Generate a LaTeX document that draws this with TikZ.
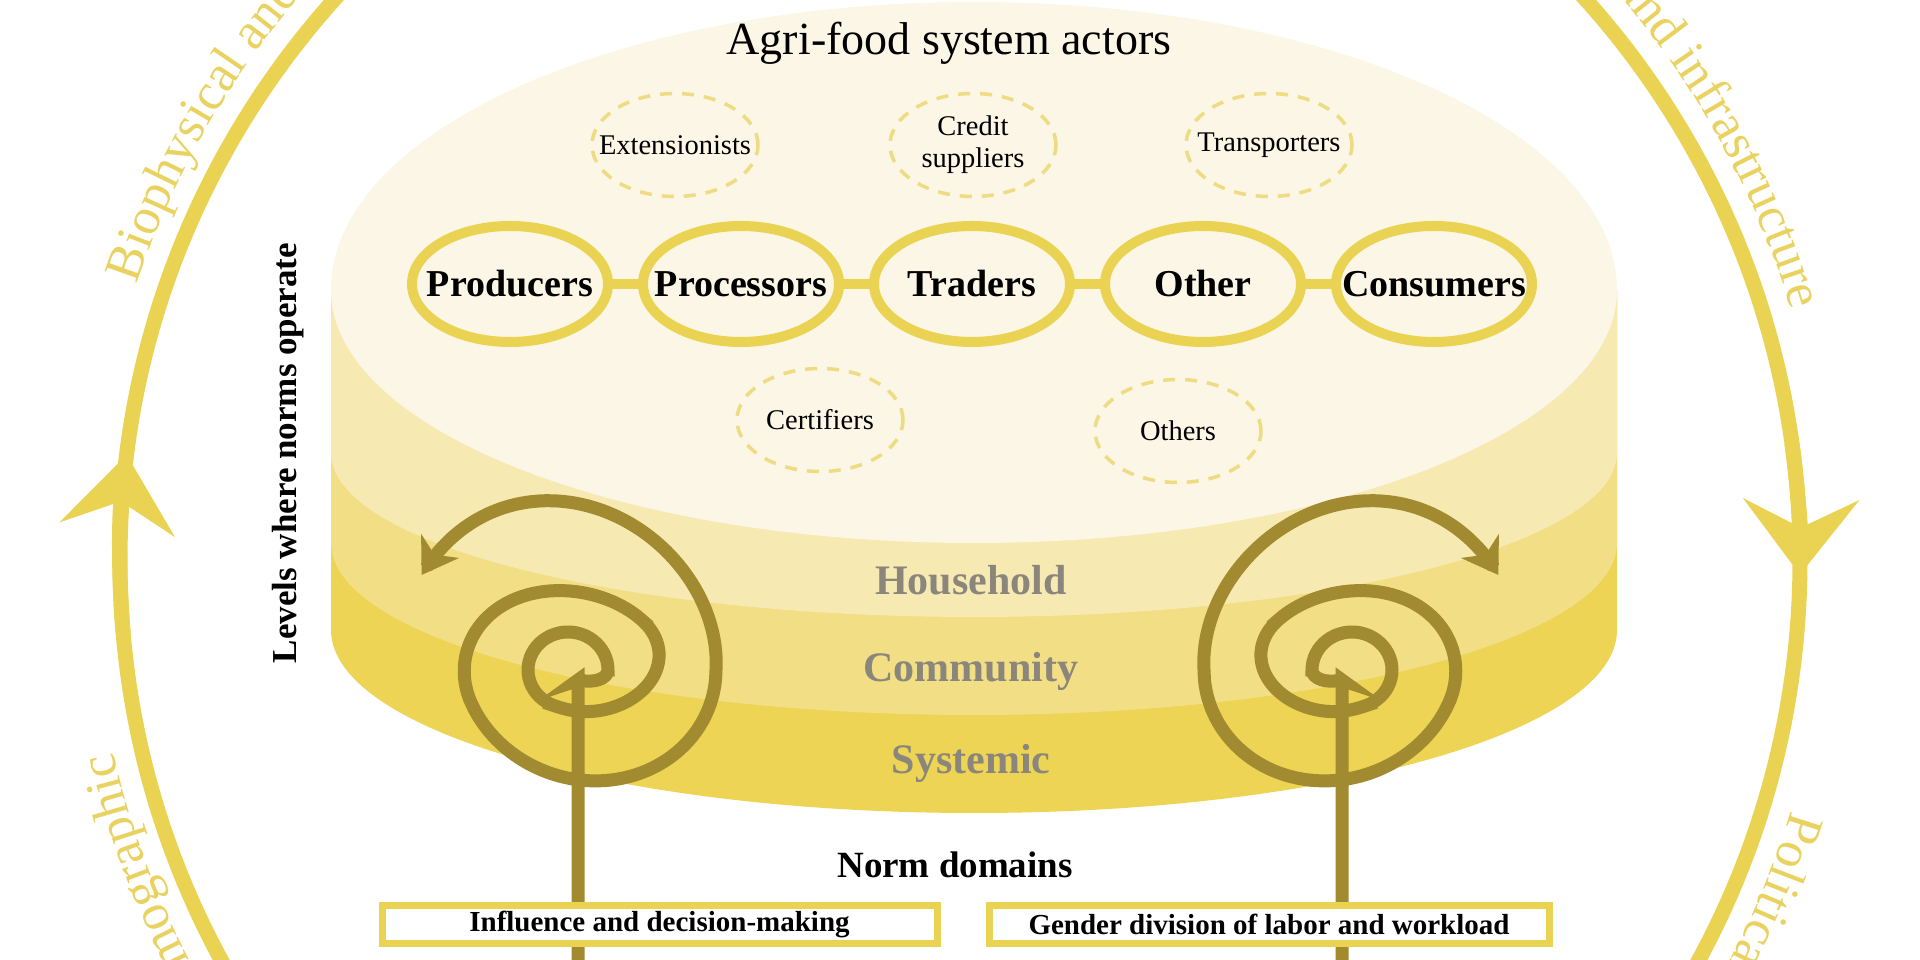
\documentclass[tikz,border=0pt]{standalone}
\usepackage{fontspec}
\setmainfont{Liberation Serif}
\usepackage{tikz}
\usetikzlibrary{arrows.meta,positioning,shapes.geometric,decorations.text}
\definecolor{ringgold}{RGB}{234,210,82}
\definecolor{ringtext}{RGB}{233,210,96}
\definecolor{olive}{RGB}{161,138,48}
\definecolor{cream}{RGB}{251,246,229}
\definecolor{hhband}{RGB}{246,233,177}
\definecolor{comband}{RGB}{242,222,132}
\definecolor{sysband}{RGB}{237,212,84}
\definecolor{bandgray}{RGB}{138,134,124}
\definecolor{dashgold}{RGB}{238,219,130}
\tikzset{
  actor/.style={ellipse,draw=ringgold,line width=10pt,fill=cream,minimum width=196pt,minimum height=116pt,inner xsep=-40pt,inner ysep=0pt,outer sep=0pt,font=\fontsize{38}{40}\selectfont\bfseries},
  sideactor/.style={ellipse,draw=dashgold,line width=3.5pt,dash pattern=on 12pt off 10pt,minimum width=166pt,minimum height=103pt,inner xsep=-40pt,inner ysep=0pt,align=center,font=\fontsize{28.5}{32}\selectfont},
  link/.style={draw=ringgold,line width=10pt},
  domainbox/.style={draw=ringgold,line width=7pt,fill=white,minimum height=38pt,inner sep=0pt,font=\fontsize{29}{31}\selectfont\bfseries},
  layerlabel/.style={text=bandgray,font=\fontsize{42}{44}\selectfont\bfseries},
  spiralpath/.style={draw=olive,line width=13pt},
  ringline/.style={draw=ringgold,line width=15pt},
  ringtip/.style={-{Stealth[length=75pt,width=115pt,inset=28pt]}},
  curltip/.style={-{Stealth[length=34pt,width=44pt,inset=10pt]}}
}
\newcommand\ringfont{\fontsize{52}{56}\selectfont\color{ringtext}}
% one spiral round its own centre: stem, inner ring, widening turns
\newcommand\normcurl{%
  \draw[spiralpath,curltip] (10,-320) -- (10,-10)
    -- plot[domain=-50:0,samples=12,smooth,variable=\t]
       ({(14+13*(1-cos(3.6*(\t+50))))*cos(\t)},{(14+12*(1-cos(3.6*(\t+50))))*sin(\t)})
    -- plot[domain=0:250,samples=40,smooth,variable=\t]
       ({40*cos(\t)},{38*sin(\t)})
    -- plot[domain=250:400,samples=30,smooth,variable=\t]
       ({(40+29*(1-cos(1.2*(\t-250))))*cos(\t)},{(38+19*(1-cos(1.2*(\t-250))))*sin(\t)})
    -- plot[domain=400:560,samples=30,smooth,variable=\t]
       ({(98+3*(1-cos(1.125*(\t-400))))*cos(\t)},{(76+7*(1-cos(1.125*(\t-400))))*sin(\t)})
    -- plot[domain=560:720,samples=30,smooth,variable=\t]
       ({(104+22*(1-cos(1.125*(\t-560))))*cos(\t)},{(90+22.5*(1-cos(1.125*(\t-560))))*sin(\t)})
    -- plot[domain=720:870,samples=30,smooth,variable=\t]
       ({(148+21*(\t-720)/150)*cos(\t)},{(135+55*(\t-720)/150)*sin(\t)});
}

\begin{document}
\begin{tikzpicture}[x=1pt,y=1pt]
\useasboundingbox (0,0) rectangle (1920,960);

% outer ring of contexts
\coordinate (hub) at (960,400);
\draw[ringline] (hub) circle[radius=840];
\draw[ringline,ringtip] (hub) ++(185:840) arc[start angle=185,end angle=172.8,radius=840];
\draw[ringline,ringtip] (hub) ++(8:840) arc[start angle=8,end angle=-1,radius=840];
\path[decorate,decoration={text along path,text align=left,text={|\ringfont|Biophysical and}}]
  (hub) ++(161.5:868) arc[start angle=161.5,end angle=100,radius=868];
\path[decorate,decoration={text along path,text align=left,text={|\ringfont|and infrastructure}}]
  (hub) ++(41:868) arc[start angle=41,end angle=-10,radius=868];
\path[decorate,decoration={text along path,text align=left,text={|\ringfont|Demographic}}]
  (hub) ++(211.5:868) arc[start angle=211.5,end angle=160,radius=868];
\path[decorate,decoration={text along path,text align=left,text={|\ringfont|Political}}]
  (hub) ++(-16.8:868) arc[start angle=-16.8,end angle=-60,radius=868];

% the cylinder, bottom layer first
\fill[sysband] (331,670) -- (331,330) arc[start angle=180,end angle=360,x radius=643,y radius=183] -- (1617,670) -- cycle;
\fill[comband] (331,670) -- (331,417) arc[start angle=180,end angle=360,x radius=643,y radius=172] -- (1617,670) -- cycle;
\fill[hhband] (331,670) -- (331,507) arc[start angle=180,end angle=360,x radius=643,y radius=164] -- (1617,670) -- cycle;
\fill[cream] (331,670) arc[start angle=180,end angle=0,x radius=643,y radius=288]
  arc[start angle=0,end angle=-180,x radius=643,y radius=253] -- cycle;

\node[layerlabel] (hh) at (971,380) {Household};
\node[layerlabel] (com) at (971,289) {Community};
\node[layerlabel] (sys) at (971,197) {Systemic};
\node[rotate=90,font=\fontsize{35}{38}\selectfont\bfseries] (levels) at (288,507) {Levels where norms operate};

% actors on the top face
\node[font=\fontsize{46}{50}\selectfont] (title) at (949,917) {Agri-food system actors};
\node[sideactor] (ext) at (675,815) {Extensionists};
\node[sideactor] (credit) at (973,815) {Credit\\suppliers};
\node[sideactor] (trans) at (1269,815) {Transporters};
\node[sideactor] (cert) at (820,540) {Certifiers};
\node[sideactor] (others) at (1178,529) {Others};

\node[actor] (prod) at (510,676) {Producers};
\node[actor,right=35pt of prod] (proc) {Processors};
\node[actor,right=35pt of proc] (trad) {Traders};
\node[actor,right=35pt of trad] (other) {Other};
\node[actor,right=35pt of other] (cons) {Consumers};
\draw[link] (prod)--(proc);\draw[link] (proc)--(trad);
\draw[link] (trad)--(other);\draw[link] (other)--(cons);

% norm domain spirals
\begin{scope}[shift={(568,290)}]
  \normcurl
\end{scope}
\begin{scope}[shift={(1352,290)},xscale=-1]
  \normcurl
\end{scope}

\node[font=\fontsize{37}{40}\selectfont\bfseries] (normdom) at (955,95) {Norm domains};
\node[domainbox,minimum width=555pt] (infl) at (659.5,35.5) {Influence and decision-making};
\node[domainbox,minimum width=560pt] (gender) at (1269,35.5) {Gender division of labor and workload};
\end{tikzpicture}
\end{document}
